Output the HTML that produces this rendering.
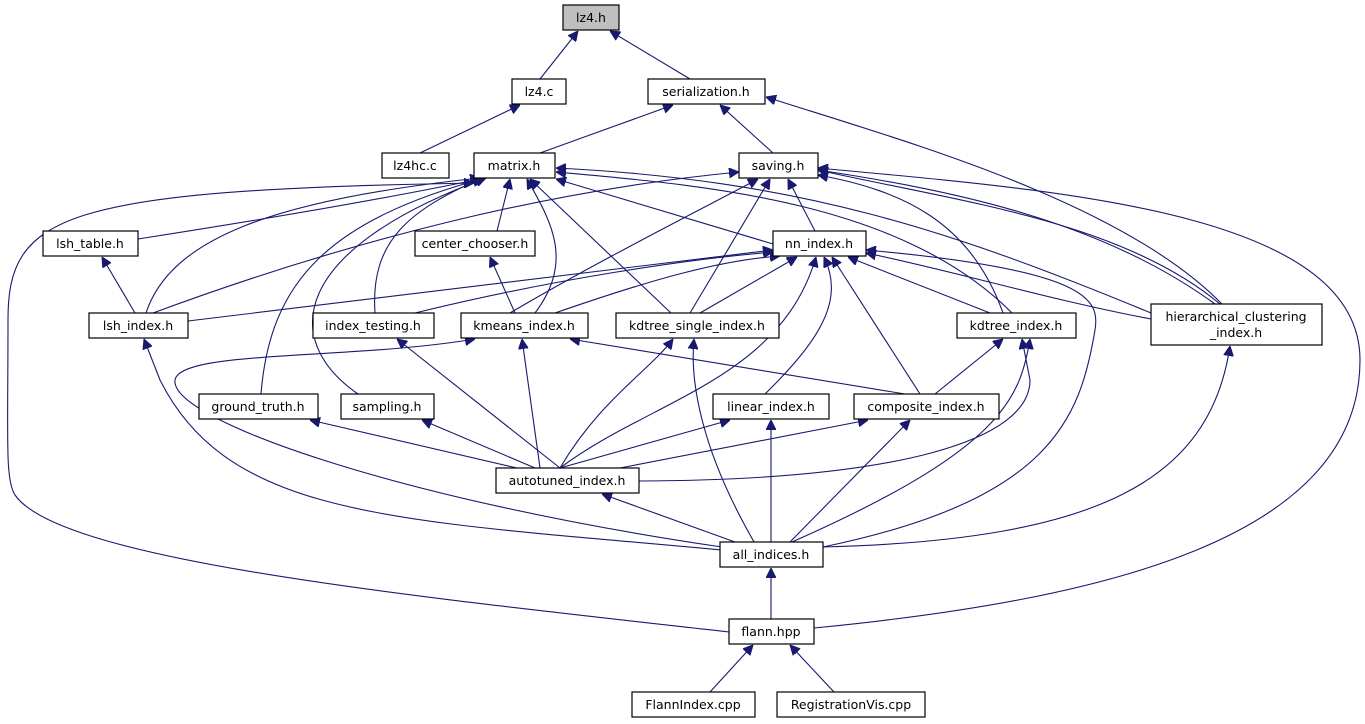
<!DOCTYPE html>
<html><head><meta charset="utf-8"><style>
html,body{margin:0;padding:0;background:#fff;}
svg{display:block}
text{font-family:"DejaVu Sans","Liberation Sans",sans-serif;font-size:12.5px;fill:#000}
.n{fill:#fff;stroke:#000;stroke-width:1.2}
.e{fill:none;stroke:#191970;stroke-width:1.1}
</style></head><body>
<svg width="1365" height="724" viewBox="0 0 1365 724" xmlns="http://www.w3.org/2000/svg">
<defs><marker id="a" viewBox="0 0 10 10" refX="10" refY="5" markerWidth="10" markerHeight="10" markerUnits="userSpaceOnUse" orient="auto"><path d="M0,0 L10,5 L0,10 z" fill="#191970" stroke="#191970"/></marker></defs>
<g class="e" marker-end="url(#a)">
<path d="M540,79 L578,31"/>
<path d="M690,79 L610,31"/>
<path d="M420,153 L520,105"/>
<path d="M540,153 L673,105"/>
<path d="M773,153 L720,105"/>
<path d="M1222,304 C1120,200 900,140 766,97"/>
<path d="M138,239 C260,220 380,200 485,178"/>
<path d="M146,313 C170,240 270,200 480,178"/>
<path d="M497,231 L510,179"/>
<path d="M535,313 C575,260 550,220 527,179"/>
<path d="M375,313 C370,240 410,210 482,178"/>
<path d="M261,394 C270,280 330,220 485,178"/>
<path d="M358,394 C280,340 290,250 486,178"/>
<path d="M671,313 L530,179"/>
<path d="M773,244 L556,179"/>
<path d="M1012,313 C900,200 700,185 556,172"/>
<path d="M1151,313 C950,230 800,180 556,168"/>
<path d="M729,632 C400,595 60,560 15,495 C5,480 8,440 8,320 C8,215 60,190 474,183"/>
<path d="M153,313 C350,240 550,190 739,172"/>
<path d="M510,313 C600,260 700,210 758,179"/>
<path d="M690,313 L770,179"/>
<path d="M815,231 L788,179"/>
<path d="M1003,313 C970,220 900,190 818,175"/>
<path d="M1220,304 C1120,220 950,200 818,170"/>
<path d="M1215,304 C1100,220 950,190 818,170"/>
<path d="M814,628 C1100,600 1360,540 1360,360 C1360,210 1050,190 818,168"/>
<path d="M135,313 L102,257"/>
<path d="M515,313 L490,257"/>
<path d="M188,321 C400,295 600,270 773,250"/>
<path d="M415,313 C550,280 680,260 773,252"/>
<path d="M555,313 C650,280 720,260 780,256"/>
<path d="M700,313 L797,257"/>
<path d="M990,313 L848,257"/>
<path d="M1151,319 C1050,300 950,270 866,253"/>
<path d="M765,394 C820,340 845,300 824,257"/>
<path d="M920,394 L832,257"/>
<path d="M560,468 C650,400 780,380 816,257"/>
<path d="M823,547 C1050,500 1080,420 1095,330 C1100,300 1090,270 866,250"/>
<path d="M540,468 L522,339"/>
<path d="M905,394 L570,339"/>
<path d="M722,547 C400,500 170,420 175,380 C180,350 350,360 475,339"/>
<path d="M560,468 L397,339"/>
<path d="M560,468 C600,400 650,370 673,339"/>
<path d="M757,547 C700,450 690,380 694,339"/>
<path d="M935,394 L1003,339"/>
<path d="M639,481 C900,480 1030,440 1030,380 L1022,339"/>
<path d="M792,542 C1000,450 1020,400 1030,339"/>
<path d="M722,550 C400,520 230,520 160,380 L144,339"/>
<path d="M823,547 C1100,540 1210,480 1230,346"/>
<path d="M517,468 L310,420"/>
<path d="M535,468 L422,420"/>
<path d="M560,468 L730,420"/>
<path d="M771,542 L771,420"/>
<path d="M620,468 L868,420"/>
<path d="M790,542 L910,420"/>
<path d="M735,542 L602,494"/>
<path d="M771,619 L771,568"/>
<path d="M710,692 L753,645"/>
<path d="M834,692 L790,645"/>
</g>
<g>
<rect class="n" x="563" y="5" width="56" height="25" style="fill:#bfbfbf"/><text x="591" y="22" text-anchor="middle">lz4.h</text>
<rect class="n" x="512" y="79" width="54" height="25"/><text x="539" y="96" text-anchor="middle">lz4.c</text>
<rect class="n" x="648" y="79" width="117" height="25"/><text x="706" y="96" text-anchor="middle">serialization.h</text>
<rect class="n" x="382" y="153" width="67" height="25"/><text x="415" y="170" text-anchor="middle">lz4hc.c</text>
<rect class="n" x="474" y="153" width="81" height="25"/><text x="514" y="170" text-anchor="middle">matrix.h</text>
<rect class="n" x="739" y="153" width="79" height="25"/><text x="778" y="170" text-anchor="middle">saving.h</text>
<rect class="n" x="43" y="231" width="95" height="25"/><text x="90" y="248" text-anchor="middle">lsh_table.h</text>
<rect class="n" x="415" y="231" width="120" height="25"/><text x="475" y="248" text-anchor="middle">center_chooser.h</text>
<rect class="n" x="773" y="231" width="93" height="25"/><text x="819" y="248" text-anchor="middle">nn_index.h</text>
<rect class="n" x="89" y="313" width="99" height="25"/><text x="138" y="330" text-anchor="middle">lsh_index.h</text>
<rect class="n" x="313" y="313" width="121" height="25"/><text x="373" y="330" text-anchor="middle">index_testing.h</text>
<rect class="n" x="461" y="313" width="127" height="25"/><text x="524" y="330" text-anchor="middle">kmeans_index.h</text>
<rect class="n" x="616" y="313" width="163" height="25"/><text x="697" y="330" text-anchor="middle">kdtree_single_index.h</text>
<rect class="n" x="957" y="313" width="119" height="25"/><text x="1016" y="330" text-anchor="middle">kdtree_index.h</text>
<rect class="n" x="1151" y="304" width="171" height="41"/><text x="1236" y="321" text-anchor="middle">hierarchical_clustering</text><text x="1236" y="337" text-anchor="middle">_index.h</text>
<rect class="n" x="199" y="394" width="119" height="25"/><text x="258" y="411" text-anchor="middle">ground_truth.h</text>
<rect class="n" x="341" y="394" width="93" height="25"/><text x="387" y="411" text-anchor="middle">sampling.h</text>
<rect class="n" x="713" y="394" width="116" height="25"/><text x="771" y="411" text-anchor="middle">linear_index.h</text>
<rect class="n" x="854" y="394" width="145" height="25"/><text x="926" y="411" text-anchor="middle">composite_index.h</text>
<rect class="n" x="496" y="468" width="143" height="25"/><text x="567" y="485" text-anchor="middle">autotuned_index.h</text>
<rect class="n" x="720" y="542" width="103" height="25"/><text x="771" y="559" text-anchor="middle">all_indices.h</text>
<rect class="n" x="729" y="619" width="85" height="25"/><text x="771" y="636" text-anchor="middle">flann.hpp</text>
<rect class="n" x="632" y="692" width="123" height="25"/><text x="693" y="709" text-anchor="middle">FlannIndex.cpp</text>
<rect class="n" x="777" y="692" width="148" height="25"/><text x="851" y="709" text-anchor="middle">RegistrationVis.cpp</text>
</g>
</svg>
</body></html>
